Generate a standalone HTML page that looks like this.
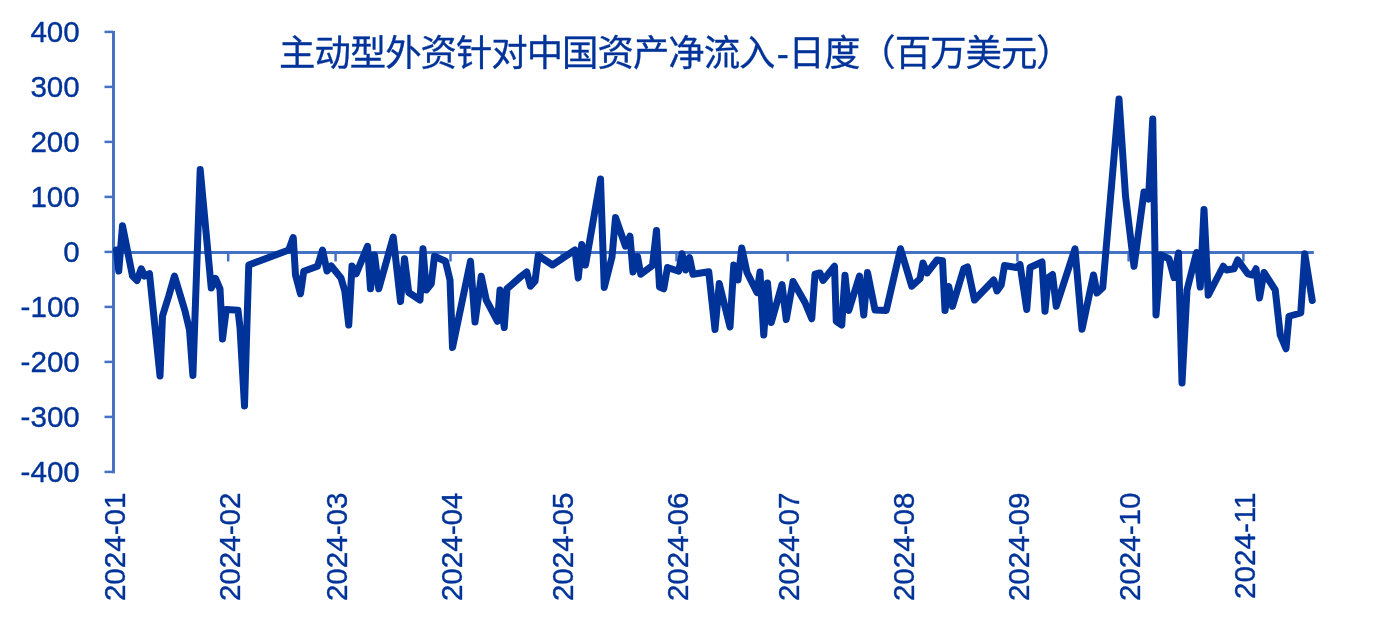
<!DOCTYPE html>
<html lang="zh-CN"><head><meta charset="utf-8"><title>主动型外资针对中国资产净流入-日度</title>
<style>
html,body{margin:0;padding:0;background:#fff;}
body{width:1385px;height:630px;overflow:hidden;}
svg{display:block;}
text{font-family:"Liberation Sans","Noto Sans CJK SC",sans-serif;fill:#003399;}
.yl{font-size:29.6px;text-anchor:end;stroke:#003399;stroke-width:0.35px;}
.xl{font-size:29.6px;text-anchor:end;stroke:#003399;stroke-width:0.35px;}
.tt{font-size:36.4px;letter-spacing:-1px;stroke:#003399;stroke-width:0.3px;font-family:"Liberation Sans","Noto Sans CJK SC",sans-serif;}
</style></head><body>
<svg width="1385" height="630" viewBox="0 0 1385 630">
<rect width="1385" height="630" fill="#fff"/>

<g stroke="#4472C4" fill="none">
<line x1="113.5" y1="31" x2="113.5" y2="473.2" stroke-width="3"/>
<line x1="104.5" y1="31.9" x2="113.5" y2="31.9" stroke-width="2.5"/>
<line x1="104.5" y1="86.9" x2="113.5" y2="86.9" stroke-width="2.5"/>
<line x1="104.5" y1="141.9" x2="113.5" y2="141.9" stroke-width="2.5"/>
<line x1="104.5" y1="196.9" x2="113.5" y2="196.9" stroke-width="2.5"/>
<line x1="104.5" y1="251.9" x2="113.5" y2="251.9" stroke-width="2.5"/>
<line x1="104.5" y1="306.9" x2="113.5" y2="306.9" stroke-width="2.5"/>
<line x1="104.5" y1="361.9" x2="113.5" y2="361.9" stroke-width="2.5"/>
<line x1="104.5" y1="416.9" x2="113.5" y2="416.9" stroke-width="2.5"/>
<line x1="104.5" y1="471.9" x2="113.5" y2="471.9" stroke-width="2.5"/>
<line x1="112" y1="252.4" x2="1313.9" y2="252.4" stroke-width="3"/>
<line x1="228.2" y1="252.4" x2="228.2" y2="261.5" stroke-width="2.5"/>
<line x1="335.6" y1="252.4" x2="335.6" y2="261.5" stroke-width="2.5"/>
<line x1="450.5" y1="252.4" x2="450.5" y2="261.5" stroke-width="2.5"/>
<line x1="561.7" y1="252.4" x2="561.7" y2="261.5" stroke-width="2.5"/>
<line x1="676.5" y1="252.4" x2="676.5" y2="261.5" stroke-width="2.5"/>
<line x1="787.7" y1="252.4" x2="787.7" y2="261.5" stroke-width="2.5"/>
<line x1="902.6" y1="252.4" x2="902.6" y2="261.5" stroke-width="2.5"/>
<line x1="1017.4" y1="252.4" x2="1017.4" y2="261.5" stroke-width="2.5"/>
<line x1="1128.6" y1="252.4" x2="1128.6" y2="261.5" stroke-width="2.5"/>
<line x1="1243.4" y1="252.4" x2="1243.4" y2="261.5" stroke-width="2.5"/>
</g>
<text class="yl" x="79.8" y="41.6">400</text>
<text class="yl" x="79.8" y="96.6">300</text>
<text class="yl" x="79.8" y="151.6">200</text>
<text class="yl" x="79.8" y="206.6">100</text>
<text class="yl" x="79.8" y="261.6">0</text>
<text class="yl" x="79.8" y="316.6">-100</text>
<text class="yl" x="79.8" y="371.6">-200</text>
<text class="yl" x="79.8" y="426.6">-300</text>
<text class="yl" x="79.8" y="481.6">-400</text>
<text class="tt" x="279" y="65.8">主动型外资针对中国资产净流入<tspan dx="2.4">-</tspan><tspan dx="0.6">日度（百万美元）</tspan></text>
<text class="xl" transform="translate(124.6,492.5) rotate(-90)" x="0" y="0" style="text-anchor:end">2024-01</text>
<text class="xl" transform="translate(239.5,492.5) rotate(-90)" x="0" y="0" style="text-anchor:end">2024-02</text>
<text class="xl" transform="translate(346.9,492.5) rotate(-90)" x="0" y="0" style="text-anchor:end">2024-03</text>
<text class="xl" transform="translate(461.8,492.5) rotate(-90)" x="0" y="0" style="text-anchor:end">2024-04</text>
<text class="xl" transform="translate(573.0,492.5) rotate(-90)" x="0" y="0" style="text-anchor:end">2024-05</text>
<text class="xl" transform="translate(687.8,492.5) rotate(-90)" x="0" y="0" style="text-anchor:end">2024-06</text>
<text class="xl" transform="translate(799.0,492.5) rotate(-90)" x="0" y="0" style="text-anchor:end">2024-07</text>
<text class="xl" transform="translate(913.9,492.5) rotate(-90)" x="0" y="0" style="text-anchor:end">2024-08</text>
<text class="xl" transform="translate(1028.7,492.5) rotate(-90)" x="0" y="0" style="text-anchor:end">2024-09</text>
<text class="xl" transform="translate(1139.9,492.5) rotate(-90)" x="0" y="0" style="text-anchor:end">2024-10</text>
<text class="xl" transform="translate(1254.7,492.5) rotate(-90)" x="0" y="0" style="text-anchor:end">2024-11</text>
<polyline points="116.4,250 118.75,271 122.5,225.75 132.5,276 137,280.5 141.25,268.75 144.5,276 149.5,273.75 160,376 162.5,316 168.75,296 174.5,276 185,311 189.5,330 192.9,375.5 200.2,169.5 211.25,288 215.5,278.5 220,289 222.5,339 226.25,309.5 238,310.3 240,327.5 244.5,406 248.75,265 288.75,250 293.25,237.5 295.5,275 300.5,293.75 303.75,271.25 317.5,266.25 322.5,250 327,271 331.25,266 341,278 344.8,291 348.75,325 352,266 356.25,273.75 367.5,246.25 370.5,288.75 374.5,255 378.75,288.75 393.25,237 400.5,301.5 404.5,258.75 408.75,292.5 420,300 423,248.75 426.25,290 431.25,283.75 434.5,256.25 445.5,261.25 450,280 452.5,347.5 470.5,261.25 475,322 481.25,276.25 486.25,300 497.5,321.25 500,290 504.25,327.5 507,288.75 521.25,276.25 526.75,272 530.5,286.25 535,281.25 538.25,255.5 552.5,265 575,250 578.25,278 581.75,244.5 585.5,265 600.5,179 604.25,287.5 612,257 615.5,217.5 625.5,246.25 630,236.25 633,272 637.5,256.25 640.75,274.25 652.5,265.5 656.5,230.5 659.5,287 663.75,288.75 667.5,267.5 678.75,271.25 682,253.75 685.75,270 689.5,257.5 693,274.25 708.75,271.75 715,329.5 719.25,283.5 730,327 733.75,265 738,280 741.75,248 747,272.5 757,292.5 760,272 763.75,335 767.5,283 771.25,322.5 782,284.5 786.25,319.5 793,281.5 805,302.5 811.75,318.75 815,274.25 820,273 823,280.5 834.5,266.25 836.25,321.25 841.75,325 845,275.25 848.75,310.5 859.5,276 863.75,315 867.5,272.5 875,310 886.25,310.5 900.5,248.75 911.75,286.25 920,278.75 923,263 927,273 937,260 942.5,260.75 945,310.5 948.75,286.5 952.5,306.25 963.75,268.75 967.5,267 974.5,300 993.75,280 997,291 1001.25,285 1004.5,265.5 1016.25,267.5 1020,264.5 1026.75,309.5 1030,267.5 1042,262 1045,311.25 1048.25,277.5 1052.5,274.5 1056.25,306.25 1075,248.75 1082,329.25 1093.5,275 1097,293 1102.75,287.75 1119,99 1125.5,196 1134,266.25 1144,192 1148.5,199 1152.75,119 1156,315 1161,255 1169,258.75 1174,277.5 1178.5,253 1182,383 1187,290 1196.5,252.5 1200.25,287 1204,209.5 1208.25,295.25 1223.25,266.25 1226.5,270 1234,268.75 1237.75,260 1247.75,273.75 1252.75,275 1256,268.75 1259.5,298 1264,272.5 1275.25,290 1280.25,335 1286,348.75 1289,316.25 1300.75,313 1304.75,253.75 1312.25,300.5" fill="none" stroke="#003399" stroke-width="7" stroke-linejoin="round" stroke-linecap="round"/>
</svg></body></html>
